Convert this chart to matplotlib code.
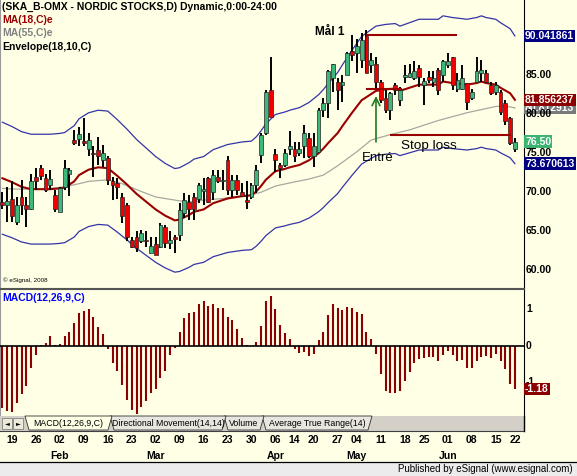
import numpy as np
import pandas as pd
import matplotlib
matplotlib.use("Agg")
import matplotlib.pyplot as plt
from matplotlib.patches import Rectangle, Polygon
from matplotlib.transforms import blended_transform_factory

plt.rcParams['font.family'] = ['Liberation Sans', 'DejaVu Sans']

# trading days, Stockholm holidays removed
holidays = ['2009-04-10', '2009-04-13', '2009-05-01', '2009-05-21', '2009-06-19']
days = pd.bdate_range('2009-01-15', '2009-06-22')
days = days[~days.isin(pd.to_datetime(holidays))]

# daily candles
opens = [68.8, 68.4, 69.2, 66.2, 69.4, 68.4, 67.9, 71.9, 73.1, 71.8,
         70.9, 69.7, 67.5, 70.7, 72.4, 76.7, 76.8, 76.6, 75.6, 75.1,
         75.4, 74.1, 74.4, 71.4, 71.2, 69.4, 68.4, 63.9, 64.3, 63.7,
         63.9, 62.2, 63.4, 63.0, 65.6, 63.5, 64.3, 64.5, 67.3, 68.7,
         69.4, 69.2, 70.2, 71.8, 70.1, 71.9, 71.4, 74.1, 70.3, 71.6,
         70.1, 69.0, 69.4, 70.9, 74.8, 77.6, 83.1, 74.9, 73.5, 73.5,
         75.6, 75.6, 75.0, 75.9, 76.9, 74.6, 75.2, 80.6, 81.4, 84.6,
         84.2, 83.8, 85.0, 88.1, 87.8, 87.0, 90.0, 86.3, 86.5, 84.2,
         82.1, 80.6, 83.7, 81.8, 84.8, 84.8, 84.6, 85.9, 83.8, 84.8,
         84.2, 85.7, 85.0, 86.3, 87.4, 83.3, 83.3, 84.0, 82.1, 84.2,
         85.3, 85.3, 83.8, 82.8, 82.9, 81.4, 79.5, 75.6]
highs = [70.1, 70.7, 71.4, 69.4, 71.6, 69.4, 72.4, 73.1, 73.5, 72.4,
         72.9, 70.3, 70.7, 74.1, 73.1, 78.0, 78.4, 79.5, 77.6, 75.9,
         77.1, 76.1, 74.6, 72.0, 71.8, 69.9, 68.6, 64.3, 65.0, 65.2,
         65.1, 64.3, 64.3, 66.0, 65.8, 65.0, 64.5, 68.6, 69.9, 69.7,
         69.9, 71.2, 71.8, 72.0, 72.9, 72.9, 72.9, 74.7, 72.2, 72.2,
         71.2, 71.4, 71.2, 73.5, 77.6, 83.1, 87.3, 75.6, 73.7, 75.6,
         77.8, 76.5, 76.5, 78.6, 77.6, 77.6, 80.8, 82.1, 85.7, 86.5,
         84.6, 85.0, 88.0, 90.2, 89.7, 90.4, 90.8, 87.8, 87.4, 84.4,
         83.1, 82.9, 84.0, 83.5, 86.3, 86.5, 86.8, 86.3, 84.6, 85.5,
         85.5, 85.9, 87.0, 87.8, 87.4, 85.3, 86.3, 84.0, 83.3, 87.4,
         87.0, 85.7, 84.2, 84.2, 83.1, 81.8, 79.7, 76.9]
lows = [67.9, 66.2, 66.2, 65.8, 67.1, 65.6, 67.7, 70.3, 71.6, 70.1,
        70.3, 67.5, 67.5, 70.3, 69.5, 76.1, 75.9, 75.9, 74.7, 72.0,
        73.5, 73.3, 70.9, 69.0, 69.2, 66.0, 63.7, 62.8, 62.4, 63.5,
        63.0, 62.2, 62.0, 62.8, 62.8, 62.7, 62.2, 63.7, 66.7, 66.5,
        66.5, 68.6, 68.4, 68.6, 69.0, 71.2, 70.3, 69.7, 69.4, 69.7,
        69.4, 67.9, 69.2, 69.9, 73.7, 77.4, 79.7, 72.6, 71.8, 73.3,
        74.8, 73.9, 74.6, 74.4, 74.4, 73.3, 75.0, 79.7, 79.5, 82.9,
        80.6, 81.6, 85.0, 86.8, 85.3, 85.9, 85.3, 85.3, 83.3, 81.4,
        80.1, 79.3, 82.5, 81.0, 84.0, 84.6, 84.4, 83.5, 81.2, 84.0,
        83.5, 82.5, 84.2, 85.9, 83.1, 82.9, 83.1, 80.6, 81.8, 84.2,
        84.2, 84.0, 82.5, 82.5, 79.9, 78.6, 76.1, 75.2]
closes = [68.4, 68.9, 66.9, 68.4, 68.4, 67.9, 71.4, 71.5, 72.1, 70.3,
          71.7, 67.9, 70.5, 73.1, 72.9, 76.3, 77.5, 76.3, 76.7, 74.9,
          74.6, 75.0, 71.6, 70.9, 70.7, 66.9, 64.3, 63.0, 62.8, 64.8,
          63.7, 63.1, 62.0, 65.8, 63.5, 63.9, 64.0, 67.7, 69.0, 67.9,
          67.9, 70.9, 70.4, 68.8, 72.2, 71.4, 71.6, 70.3, 71.6, 70.3,
          69.5, 68.8, 70.9, 72.9, 77.4, 82.9, 79.7, 74.1, 73.1, 75.0,
          75.9, 74.6, 75.6, 77.6, 74.6, 75.9, 80.6, 81.4, 85.5, 86.4,
          83.1, 84.2, 87.8, 87.6, 88.7, 89.5, 85.3, 87.0, 84.2, 81.8,
          80.6, 82.7, 83.1, 83.1, 85.0, 85.3, 85.5, 84.8, 84.3, 84.4,
          84.6, 83.1, 86.8, 86.8, 83.8, 84.4, 84.6, 81.6, 82.8, 85.5,
          85.7, 84.2, 82.7, 83.8, 80.3, 79.1, 76.3, 76.5]

# moving averages, sampled along the lines (day number, value)
ma18_day = [0, 2, 4, 6, 8, 10, 12, 13, 15, 16, 18, 20, 22, 24, 26, 28, 30,
            32, 34, 36, 37, 39, 40, 42, 43, 44, 46, 47, 49, 50, 52, 53, 54,
            55, 57, 59, 60, 62, 64, 66, 67, 68, 70, 71, 73, 74, 75, 77, 78,
            80, 82, 83, 85, 87, 89, 91, 92, 94, 97, 99, 100, 101, 103, 104,
            106, 107]
ma18 = [71.8, 71.3, 70.7, 70.4, 70.4, 70.4, 70.5, 70.6, 71.4, 72.2, 72.9,
        73.2, 73.1, 72.1, 71.0, 69.8, 68.8, 67.8, 67.0, 66.4, 66.5, 67.1,
        67.5, 67.8, 68.2, 68.6, 69.0, 69.2, 69.4, 69.5, 69.6, 70.1, 70.8,
        71.6, 72.7, 73.0, 73.2, 73.5, 74.1, 75.0, 75.6, 76.3, 77.6, 78.5,
        80.2, 81.0, 81.8, 82.6, 83.0, 83.2, 83.3, 83.0, 83.4, 83.8, 83.8,
        83.8, 84.2, 84.0, 83.8, 84.0, 84.2, 84.0, 83.8, 83.4, 82.7, 81.856237]
ma55_day = [0, 3, 7, 10, 13, 16, 18, 22, 25, 29, 32, 36, 38, 40, 42, 44, 46,
            48, 50, 52, 54, 57, 60, 64, 67, 70, 74, 77, 81, 85, 88, 91, 94,
            97, 100, 103, 105, 106, 107]
ma55 = [70.5, 70.4, 70.4, 70.5, 70.7, 71.1, 71.4, 71.6, 71.1, 70.1, 69.4,
        69.0, 68.8, 68.8, 69.0, 69.1, 69.2, 69.4, 69.5, 69.7, 70.0, 70.8,
        71.2, 71.7, 72.2, 73.4, 75.2, 76.7, 77.4, 78.0, 78.6, 79.2, 79.7,
        80.2, 80.6, 81.0, 81.05, 80.95, 80.812913]
env_pct = 10

# MACD histogram
macd = [-1.71, -1.78, -1.82, -1.57, -1.32, -1.09, -0.61, -0.26, 0.03, 0.09,
        0.26, 0.03, 0.05, 0.27, 0.37, 0.64, 0.90, 0.97, 1.00, 0.79,
        0.52, 0.34, -0.08, -0.46, -0.68, -1.07, -1.48, -1.74, -1.87, -1.66,
        -1.51, -1.30, -1.18, -0.89, -0.68, -0.25, -0.05, 0.37, 0.76, 0.90,
        0.94, 1.14, 1.23, 1.10, 1.16, 1.05, 1.05, 0.80, 0.71, 0.47,
        0.23, 0.02, 0.01, 0.12, 0.55, 1.23, 1.38, 1.01, 0.58, 0.35,
        0.19, -0.07, -0.20, -0.16, -0.27, -0.23, 0.16, 0.39, 0.85, 1.16,
        1.03, 0.99, 1.07, 1.03, 0.94, 0.88, 0.39, 0.18, -0.23, -0.78,
        -1.22, -1.30, -1.30, -1.22, -0.95, -0.72, -0.47, -0.36, -0.34, -0.31,
        -0.31, -0.41, -0.26, -0.13, -0.26, -0.40, -0.39, -0.59, -0.59, -0.41,
        -0.29, -0.27, -0.32, -0.23, -0.41, -0.63, -1.03, -1.18]

# trade annotations
target_level, target_span = 90.1, (76, 95)
entry_level, entry_span = 83.3, (76, 83.4)
stop_level, stop_span = 77.4, (80.9, 106.2)
arrow_day, arrow_from, arrow_to = 78, 76.1, 82.7

BG = '#FFFFE6'
DARKRED = '#990000'
W, H = 577, 476


def px_box(x0, y0, x1, y1):
    return [x0 / W, 1 - y1 / H, (x1 - x0) / W, (y1 - y0) / H]


fig = plt.figure(figsize=(W / 100, H / 100), dpi=100, facecolor=BG)
xlim = (-0.5, 108.9)

# ---- price panel
ax = fig.add_axes(px_box(0, 0, 524, 288))
ax.set_facecolor(BG)
ax.set_xlim(*xlim)
ax.set_ylim(57.73, 94.65)
ax.set_xticks([])
ax.set_yticks([])
ax.spines['top'].set_visible(False)
ax.spines['left'].set_color('#999999')
ax.spines['bottom'].set_color('#555555')
ax.spines['right'].set_color('black')

x = np.arange(len(opens))
o, h, l, c = map(np.array, (opens, highs, lows, closes))
up = c >= o

e18 = np.array(ma18)
upper = e18 * (1 + env_pct / 100)
lower = e18 * (1 - env_pct / 100)
ax.plot(ma18_day, upper, color='#3434A6', lw=0.9, zorder=2)
ax.plot(ma18_day, lower, color='#3434A6', lw=0.9, zorder=2)
ax.plot(ma55_day, ma55, color='#A8A8A0', lw=0.9, zorder=2)
ax.plot(ma18_day, ma18, color=DARKRED, lw=1.5, zorder=2)

ax.vlines(x, l, h, color='black', lw=1.4, zorder=3)
ax.bar(x, np.maximum(np.abs(c - o), 0.15), bottom=np.minimum(o, c), width=0.8,
       color=np.where(up, '#3DB87A', '#F00000'), edgecolor='#222222',
       linewidth=0.5, zorder=4)

ax.hlines(target_level, *target_span, color=DARKRED, lw=1.5, zorder=5)
ax.hlines(entry_level, *entry_span, color=DARKRED, lw=1.5, zorder=5)
ax.hlines(stop_level, *stop_span, color=DARKRED, lw=1.5, zorder=5)
ax.annotate('', xy=(arrow_day, arrow_to), xytext=(arrow_day, arrow_from),
            arrowprops=dict(arrowstyle='->', color='#1F7A1F', lw=1.2,
                            mutation_scale=14), zorder=6)
ax.text(68.3, 90.6, 'Mål 1', fontsize=8.5, fontweight='bold', ha='center',
        va='center', zorder=6)
ax.text(75.0, 74.4, 'Entré', fontsize=9.5, ha='left', va='center', zorder=6)
ax.text(83.2, 75.9, 'Stop loss', fontsize=9.7, ha='left', va='center', zorder=6)

legend = [('(SKA_B-OMX - NORDIC STOCKS,D) Dynamic,0:00-24:00', 'black'),
          ('MA(18,C)e', DARKRED), ('MA(55,C)e', '#808080'),
          ('Envelope(18,10,C)', 'black')]
for i, (txt, col) in enumerate(legend):
    ax.text(2 / 524, 1 - (7 + 13.2 * i) / 288, txt, transform=ax.transAxes,
            fontsize=7.5, fontweight='bold', color=col, va='center')
ax.text(3 / 524, 1 - 280 / 288, '© eSignal, 2008', transform=ax.transAxes,
        fontsize=4.5, va='center')

# right-hand price scale (90.00 sits fully under the envelope tag)
tr = blended_transform_factory(ax.transAxes, ax.transData)
ax.text(1 + 1 / 524, ma55[-1], f'{ma55[-1]:.6f}', transform=tr, fontsize=7.5,
        fontweight='bold', color='white', va='center', clip_on=False,
        bbox=dict(boxstyle='square,pad=0.12', fc='#7A7A7A', ec='none'))
for v in range(60, 90, 5):
    ax.text(1 + 2 / 524, v, f'{v:.2f}', transform=tr, fontsize=7.5,
            fontweight='bold', va='center', clip_on=False)
for val, txt, col in [(upper[-1], f'{upper[-1]:.6f}', '#000080'),
                      (ma18[-1], f'{ma18[-1]:.6f}', '#8B0000'),
                      (closes[-1], f'{closes[-1]:.2f}', '#3CB371'),
                      (lower[-1], f'{lower[-1]:.6f}', '#000080')]:
    ax.text(1 + 1 / 524, val, txt, transform=tr, fontsize=7.5,
            fontweight='bold', color='white', va='center', clip_on=False,
            zorder=7, bbox=dict(boxstyle='square,pad=0.12', fc=col, ec='none'))

# ---- MACD panel
mx = fig.add_axes(px_box(0, 289, 524, 416))
mx.set_facecolor(BG)
mx.set_xlim(*xlim)
mx.set_ylim(-1.918, 1.56)
mx.set_xticks([])
mx.set_yticks([])
mx.spines['left'].set_color('#999999')
mx.spines['bottom'].set_visible(False)
mx.spines['top'].set_color('#555555')
mx.vlines(x, 0, macd, color='#8B0000', lw=1.5, zorder=3)
mx.axhline(0, color='black', lw=1.2, zorder=4)
mx.text(2 / 524, 1 - 9 / 127, 'MACD(12,26,9,C)', transform=mx.transAxes,
        fontsize=7.5, fontweight='bold', color='#0000FF', va='center')
trm = blended_transform_factory(mx.transAxes, mx.transData)
for v in [1, 0, -1]:
    mx.text(1 + 2 / 524, v, f'{v}', transform=trm, fontsize=7.5,
            fontweight='bold', va='center', clip_on=False)
mx.text(1 + 1 / 524, macd[-1], f'{macd[-1]:.2f}', transform=trm, fontsize=7.5,
        fontweight='bold', color='white', va='center', clip_on=False, zorder=7,
        bbox=dict(boxstyle='square,pad=0.12', fc='#8B0000', ec='none'))

# ---- date scale
dx = fig.add_axes(px_box(0, 431, 524, 462))
dx.set_xlim(*xlim)
dx.set_ylim(1, 0)
dx.axis('off')
week = days.isocalendar().week.to_numpy()
first = np.r_[False, week[1:] != week[:-1]]
ticks = np.flatnonzero(first)
prev_month = None
for t in ticks:
    d = days[t]
    dx.text(t, 0.3, d.strftime('%d'), fontsize=7.5, fontweight='bold',
            ha='center', va='center')
    if prev_month is not None and d.month != prev_month:
        dx.text(t, 0.8, d.strftime('%b'), fontsize=7.5, fontweight='bold',
                ha='center', va='center')
    prev_month = d.month

# ---- window chrome: tab strip and footer
ov = fig.add_axes([0, 0, 1, 1])
ov.set_xlim(0, W)
ov.set_ylim(H, 0)
ov.axis('off')
ov.add_patch(Rectangle((0, 416), 524, 15, fc='#D4D0C8', ec='none'))
ov.plot([0, 524], [431, 431], color='#404040', lw=0.8)
ov.plot([524, 524], [416, 431], color='black', lw=1)
for x0, glyph in [(2, '◄'), (13, '►')]:
    ov.add_patch(Rectangle((x0, 418), 10, 11, fc='#ECE9D8', ec='#808080', lw=0.6))
    ov.text(x0 + 5, 423.5, glyph, fontsize=4.5, ha='center', va='center',
            family=['DejaVu Sans'])
tabs = [('MACD(12,26,9,C)', 25, 112, BG), ('Directional Movement(14,14)', 110, 226, '#E8E6DE'),
        ('Volume', 224, 264, '#E8E6DE'), ('Average True Range(14)', 262, 372, '#E8E6DE')]
for label, xa, xb, fc in tabs[::-1]:
    ov.add_patch(Polygon([(xa, 416), (xa + 4, 430), (xb - 4, 430), (xb, 416)],
                         closed=True, fc=fc, ec='#303030', lw=0.6))
    ov.text((xa + xb) / 2, 423, label, fontsize=6.3, ha='center', va='center')
ov.add_patch(Rectangle((0, 462), W, 14, fc='#ECECEC', ec='none'))
ov.plot([0, W], [462, 462], color='black', lw=0.9)
ov.text(573, 469, 'Published by eSignal (www.esignal.com)', fontsize=7,
        ha='right', va='center')

fig.savefig('out.png', dpi=100, facecolor=BG)
